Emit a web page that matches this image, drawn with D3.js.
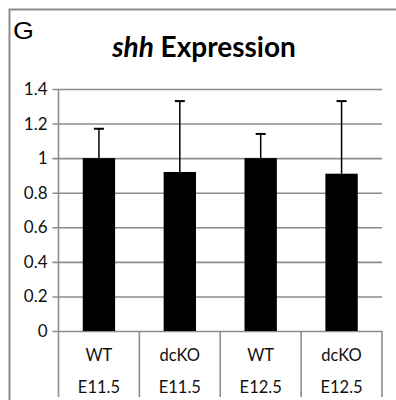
<!DOCTYPE html>
<html>
<head>
<meta charset="utf-8">
<script src="https://cdn.jsdelivr.net/npm/d3@7"></script>
<style>
  body { margin: 0; background: #fff; }
  svg { display: block; }
</style>
</head>
<body>
<div class="chart"></div>
<script>
const genotypes = ["WT", "dcKO", "WT", "dcKO"];
const stages = ["E11.5", "E11.5", "E12.5", "E12.5"];
const means = [1.0, 0.92, 1.0, 0.91];
const errUp = [0.17, 0.41, 0.14, 0.42];
const yTicks = [0, 0.2, 0.4, 0.6, 0.8, 1, 1.2, 1.4];

const W = 396, H = 400;
const margin = { top: 89, right: 14, bottom: 69, left: 58.5 };
const plotW = W - margin.left - margin.right,
  plotH = H - margin.top - margin.bottom;

const keys = genotypes.map((g, i) => g + " " + stages[i]);

const svg = d3.select(".chart").append("svg")
  .attr("width", W).attr("height", H);

// outer panel border
svg.append("path")
  .attr("d", "M9.5,400 V9.5 H396")
  .attr("fill", "none").attr("stroke", "#8c8c8c").attr("stroke-width", 2);

svg.append("text")
  .attr("x", 13).attr("y", 39.5)
  .attr("transform", "translate(13,0) scale(1.12,1) translate(-13,0)")
  .style("font-family", "Liberation Sans, Arial, sans-serif")
  .style("font-size", "24px")
  .text("G");

const title = svg.append("text")
  .attr("x", 204).attr("y", 57)
  .attr("text-anchor", "middle")
  .style("font-family", "Lato, sans-serif")
  .style("font-size", "28px")
  .style("font-weight", "bold");
title.append("tspan").style("font-style", "italic").text("shh");
title.append("tspan").text(" Expression");

const g = svg.append("g")
  .attr("transform", "translate(" + margin.left + "," + margin.top + ")");

const x = d3.scaleBand().domain(keys).range([0, plotW]);
const y = d3.scaleLinear().domain([0, 1.4]).range([plotH, 0]);

// y axis with gridlines
const yAxis = d3.axisLeft(y).tickValues(yTicks)
  .tickSize(-plotW).tickPadding(11)
  .tickFormat(d => d3.format("~g")(d));

const ya = g.append("g").attr("class", "y axis").call(yAxis);
ya.select(".domain").remove();
ya.selectAll(".tick line")
  .attr("x1", -6)
  .attr("stroke", "#8c8c8c").attr("stroke-width", 1.6);
ya.selectAll(".tick text")
  .style("font-family", "Lato, sans-serif")
  .style("font-size", "17px")
  .attr("fill", "#111");

// left axis line, extends down through the category table
g.append("line")
  .attr("x1", 0).attr("x2", 0)
  .attr("y1", 0).attr("y2", plotH + 66)
  .attr("stroke", "#8c8c8c").attr("stroke-width", 1.6);

// category separators
g.selectAll(".sep")
  .data(keys.slice(1).concat(["end"]))
  .enter().append("line")
  .attr("class", "sep")
  .attr("x1", d => d === "end" ? plotW : x(d))
  .attr("x2", d => d === "end" ? plotW : x(d))
  .attr("y1", plotH).attr("y2", plotH + 66)
  .attr("stroke", "#8c8c8c").attr("stroke-width", 1.6);

// bars
const barW = x.bandwidth() * 0.4;
const data = keys.map((k, i) => ({ key: k, mean: means[i], err: errUp[i], geno: genotypes[i], stage: stages[i] }));

g.selectAll(".bar")
  .data(data)
  .enter().append("rect")
  .attr("class", "bar")
  .attr("x", d => x(d.key) + (x.bandwidth() - barW) / 2)
  .attr("width", barW)
  .attr("y", d => y(d.mean))
  .attr("height", d => plotH - y(d.mean))
  .attr("fill", "#000");

// upper error bars
const eb = g.selectAll(".err").data(data).enter().append("g").attr("class", "err");
eb.append("line")
  .attr("x1", d => x(d.key) + x.bandwidth() / 2)
  .attr("x2", d => x(d.key) + x.bandwidth() / 2)
  .attr("y1", d => y(d.mean))
  .attr("y2", d => y(d.mean + d.err))
  .attr("stroke", "#000").attr("stroke-width", 1.5);
eb.append("line")
  .attr("x1", d => x(d.key) + x.bandwidth() / 2 - 5)
  .attr("x2", d => x(d.key) + x.bandwidth() / 2 + 5)
  .attr("y1", d => y(d.mean + d.err))
  .attr("y2", d => y(d.mean + d.err))
  .attr("stroke", "#000").attr("stroke-width", 2);

// two-level category labels
const lab = g.selectAll(".lab").data(data).enter().append("g").attr("class", "lab")
  .style("font-family", "Lato, sans-serif").style("font-size", "16.5px")
  .attr("fill", "#111");
lab.append("text")
  .attr("x", d => x(d.key) + x.bandwidth() / 2)
  .attr("y", plotH + 30)
  .attr("text-anchor", "middle")
  .text(d => d.geno);
lab.append("text")
  .attr("x", d => x(d.key) + x.bandwidth() / 2)
  .attr("y", plotH + 62)
  .attr("text-anchor", "middle")
  .text(d => d.stage);
</script>
</body>
</html>
